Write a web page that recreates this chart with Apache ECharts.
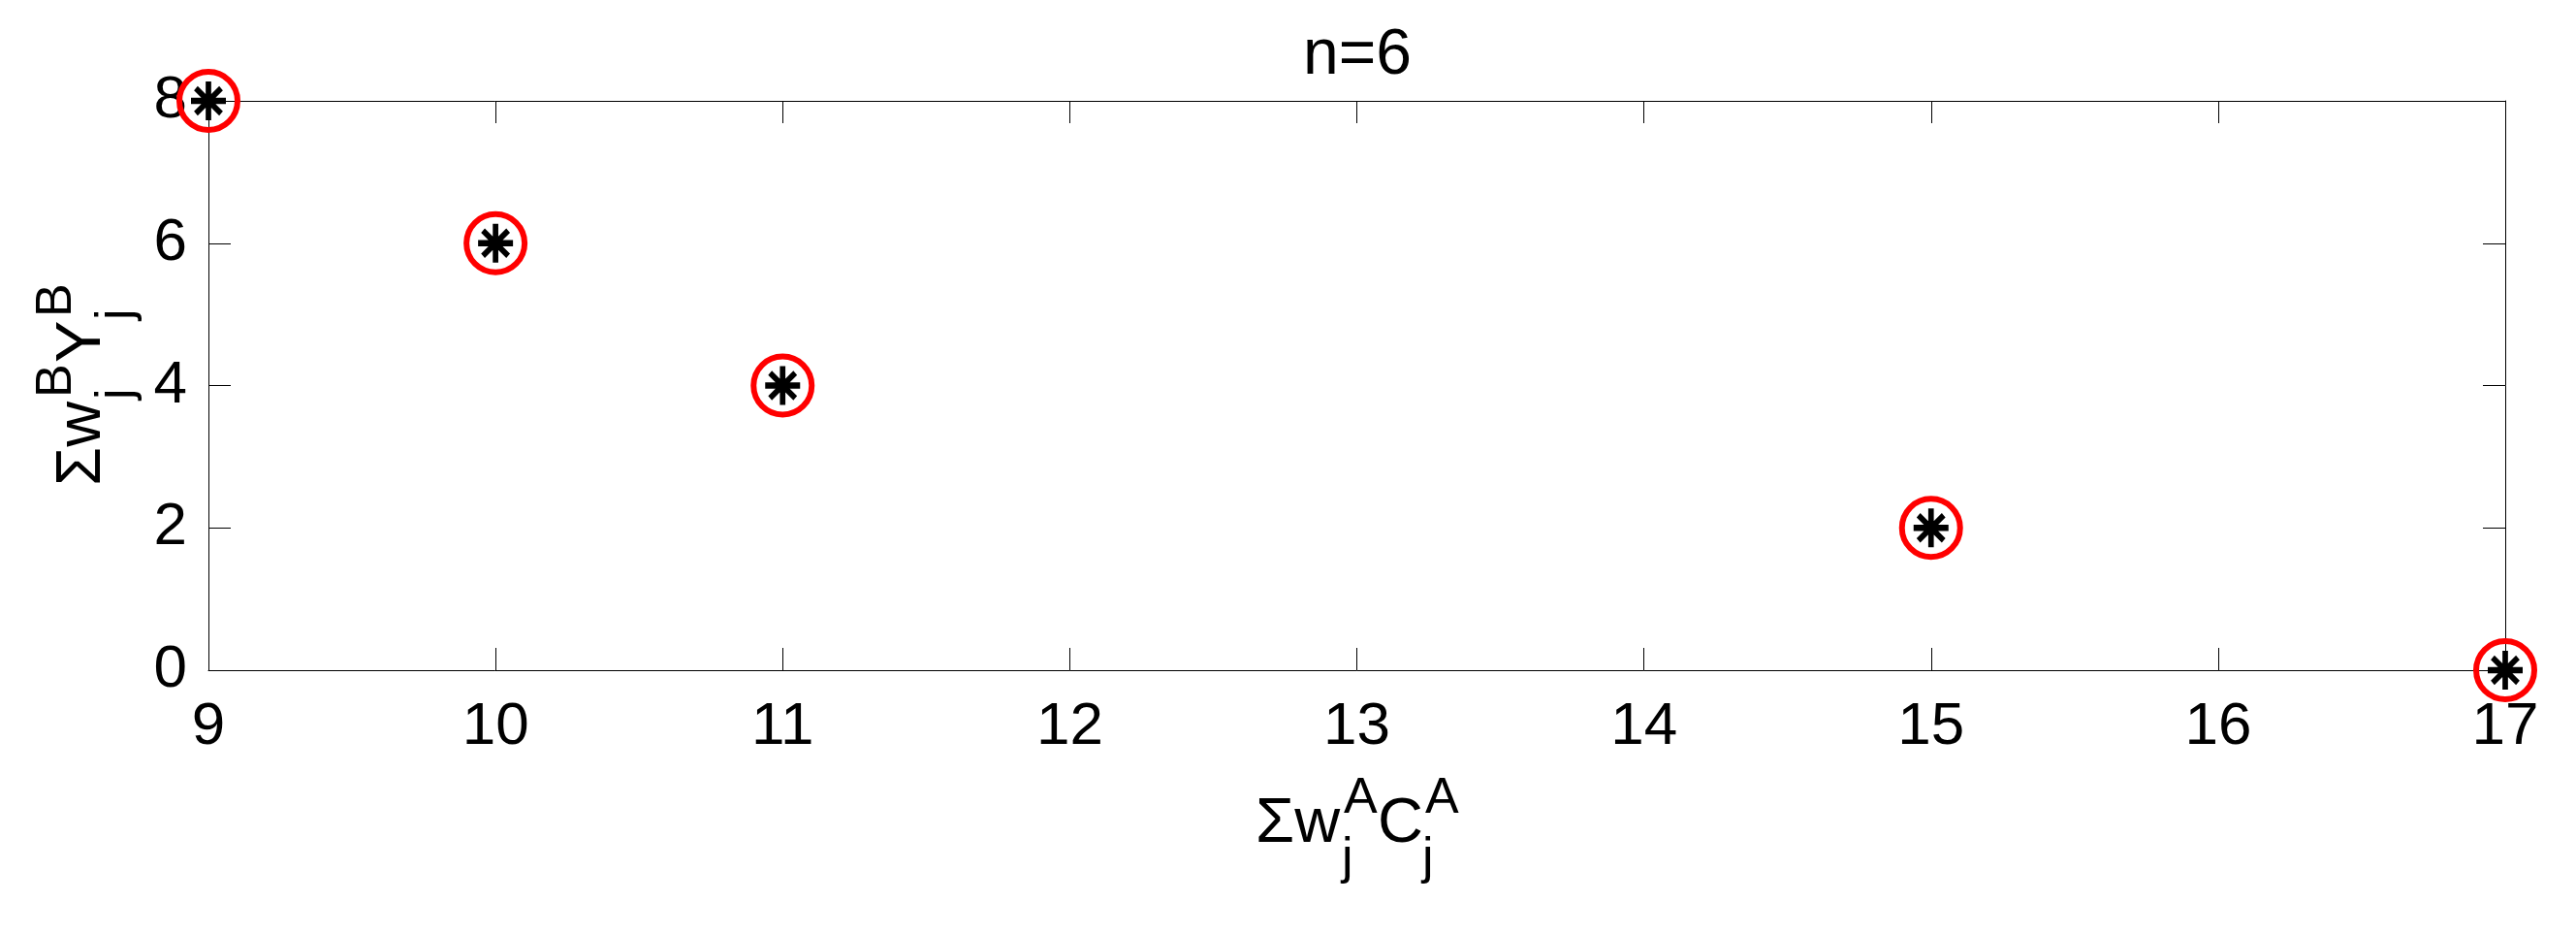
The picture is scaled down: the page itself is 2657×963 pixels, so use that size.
<!DOCTYPE html>
<html>
<head>
<meta charset="utf-8">
<title>n=6</title>
<script src="https://cdn.jsdelivr.net/npm/echarts@6/dist/echarts.min.js"></script>
<style>
  html, body { margin: 0; padding: 0; background: #fff; }
  #chart { width: 2657px; height: 963px; }
</style>
</head>
<body>
<div id="chart"></div>
<script>
// data
const titleText = 'n=6'
const xValues = [9, 10, 11, 15, 17]
const yValues = [8, 6, 4, 2, 0]
const xRange = [9, 17]
const yRange = [0, 8]
const xStep = 1
const yStep = 2

const points = xValues.map((x, i) => [x, yValues[i]])

const FONT = '"Liberation Sans", Arial, Helvetica, sans-serif'
const BASE = 65
const SCRIPT = 52

// asterisk like matlab '*' marker
const starPath = 'path://M0,-20L0,20M-18,0L18,0M-13,-13L13,13M-13,13L13,-13'

// piece of text placed on its baseline (local coords)
const txt = (s, x, base, size) => ({
  type: 'text',
  x: x,
  y: base - size * 0.35,
  style: {
    text: s,
    font: size + 'px ' + FONT,
    fill: '#000',
    textAlign: 'left',
    textVerticalAlign: 'middle'
  }
})

const chart = echarts.init(document.getElementById('chart'), null, { renderer: 'canvas' })

const axisCommon = {
  type: 'value',
  axisLine: { show: true, onZero: false, lineStyle: { color: '#000', width: 1 } },
  axisTick: { show: true, inside: true, length: 23, lineStyle: { color: '#000', width: 1 } },
  splitLine: { show: false }
}

chart.setOption({
  backgroundColor: '#fff',
  animation: false,
  grid: { left: 215, right: 73, top: 104, bottom: 272 },
  xAxis: [
    Object.assign({}, axisCommon, {
      position: 'bottom', min: xRange[0], max: xRange[1], interval: xStep,
      axisLabel: { color: '#000', fontSize: 62, fontFamily: FONT, margin: 28 }
    }),
    Object.assign({}, axisCommon, {
      position: 'top', min: xRange[0], max: xRange[1], interval: xStep,
      axisLabel: { show: false }
    })
  ],
  yAxis: [
    Object.assign({}, axisCommon, {
      position: 'left', min: yRange[0], max: yRange[1], interval: yStep,
      axisLabel: { color: '#000', fontSize: 62, fontFamily: FONT, margin: 22 }
    }),
    Object.assign({}, axisCommon, {
      position: 'right', min: yRange[0], max: yRange[1], interval: yStep,
      axisLabel: { show: false }
    })
  ],
  series: [
    {
      type: 'scatter',
      data: points,
      clip: false,
      symbol: 'circle',
      symbolSize: 60,
      itemStyle: { color: 'rgba(0,0,0,0)', borderColor: '#ff0000', borderWidth: 6, opacity: 1 },
      z: 3
    },
    {
      type: 'scatter',
      data: points,
      clip: false,
      symbol: starPath,
      symbolSize: [36, 40],
      itemStyle: { color: 'none', borderColor: '#000', borderWidth: 6, opacity: 1 },
      z: 4
    }
  ],
  graphic: [
    {
      type: 'text',
      x: 1400,
      y: 58,
      style: {
        text: titleText,
        font: '66px ' + FONT,
        fill: '#000',
        textAlign: 'center',
        textVerticalAlign: 'middle'
      }
    },
    {
      // x axis name: Σ w_j^A C_j^A
      type: 'group',
      x: 1400,
      y: 873,
      children: [
        txt('\u03a3w', -105, 0, BASE),
        txt('A', -14, -31, SCRIPT),
        txt('j', -16, 31, SCRIPT),
        txt('C', 21, 0, BASE),
        txt('A', 70, -31, SCRIPT),
        txt('j', 67, 31, SCRIPT)
      ]
    },
    {
      // y axis name: Σ w_j^B Y_j^B, rotated
      type: 'group',
      x: 108,
      y: 398,
      rotation: Math.PI / 2,
      children: [
        txt('\u03a3w', -103, 0, BASE),
        txt('B', -12, -31, SCRIPT),
        txt('j', -14, 31, SCRIPT),
        txt('Y', 24, 0, BASE),
        txt('B', 71, -31, SCRIPT),
        txt('j', 68, 31, SCRIPT)
      ]
    }
  ]
})
</script>
</body>
</html>
